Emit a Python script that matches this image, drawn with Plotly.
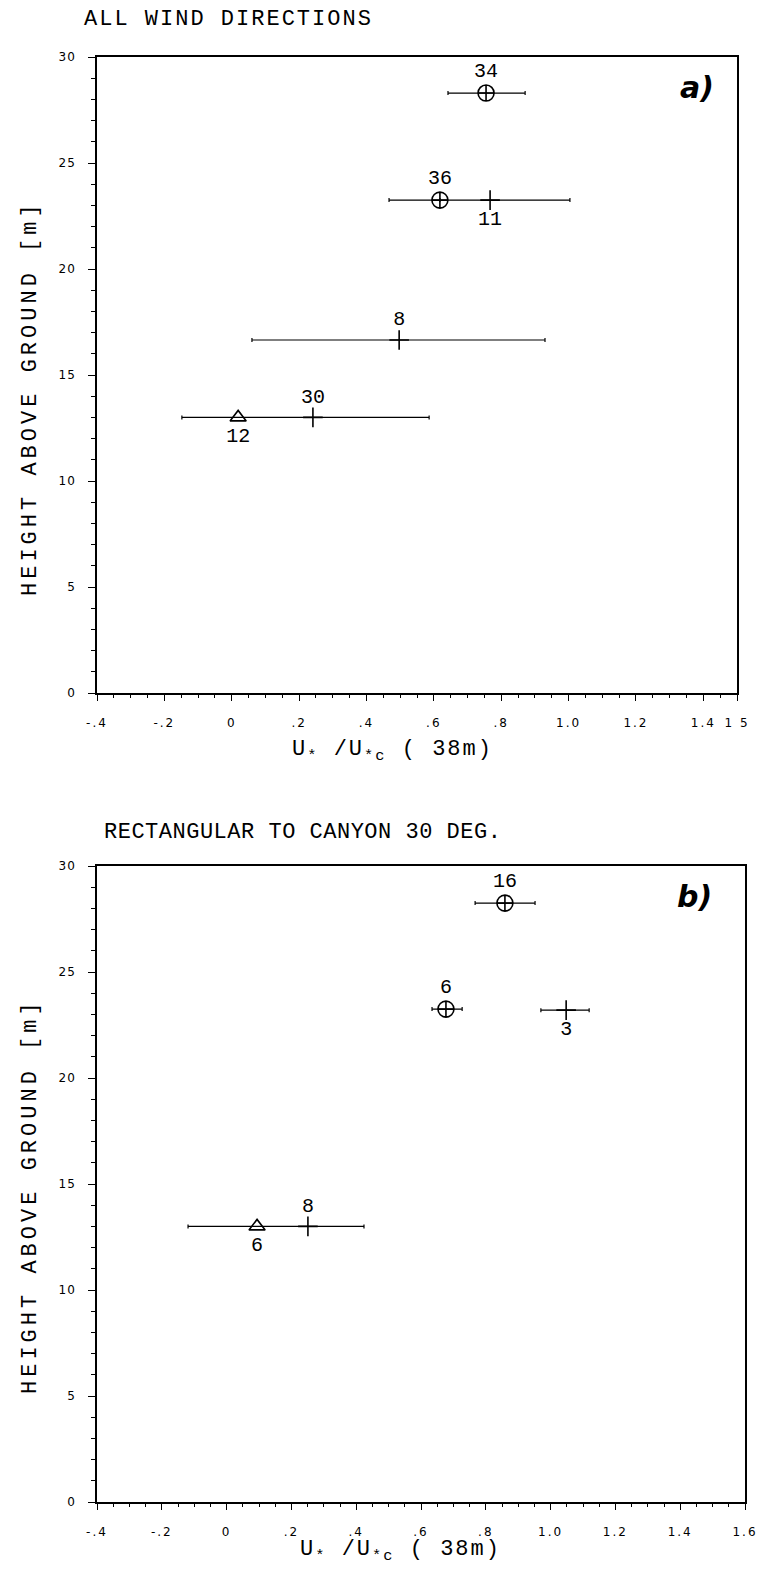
import plotly.graph_objects as go

# ---------------- data ----------------
# Panel a) ALL WIND DIRECTIONS
a_circ_x = [0.755, 0.618]
a_circ_y = [28.3, 23.25]
a_circ_lo = [0.642, 0.618]
a_circ_hi = [0.871, 0.618]
a_circ_lab = ["34", "36"]
a_circ_pos = ["top center", "top center"]

a_cross_x = [0.767, 0.497, 0.241]
a_cross_y = [23.25, 16.65, 13.0]
a_cross_lo = [0.467, 0.06, -0.148]
a_cross_hi = [1.004, 0.93, 0.586]
a_cross_lab = ["11", "8", "30"]
a_cross_pos = ["bottom center", "top center", "top center"]

a_tri_x = [0.019]
a_tri_y = [13.0]
a_tri_lab = ["12"]
a_tri_pos = ["bottom center"]

# Panel b) RECTANGULAR TO CANYON 30 DEG.
b_circ_x = [0.859, 0.677]
b_circ_y = [28.25, 23.25]
b_circ_lo = [0.767, 0.634]
b_circ_hi = [0.952, 0.727]
b_circ_lab = ["16", "6"]
b_circ_pos = ["top center", "top center"]

b_cross_x = [1.048, 0.251]
b_cross_y = [23.2, 13.0]
b_cross_lo = [0.970, -0.119]
b_cross_hi = [1.119, 0.424]
b_cross_lab = ["3", "8"]
b_cross_pos = ["bottom center", "top center"]

b_tri_x = [0.094]
b_tri_y = [13.0]
b_tri_lab = ["6"]
b_tri_pos = ["bottom center"]

a_xticks = [-0.4, -0.2, 0, 0.2, 0.4, 0.6, 0.8, 1.0, 1.2, 1.4, 1.5]
a_xtext = ["-.4", "-.2", "0", ".2", ".4", ".6", ".8", "1.0", "1.2", "1.4", "1 5"]
b_xticks = [-0.4, -0.2, 0, 0.2, 0.4, 0.6, 0.8, 1.0, 1.2, 1.4, 1.6]
b_xtext = ["-.4", "-.2", "0", ".2", ".4", ".6", ".8", "1.0", "1.2", "1.4", "1.6"]
yticks = [0, 5, 10, 15, 20, 25, 30]

# ---------------- figure ----------------
W, H = 761, 1572
fig = go.Figure()
MONO = "Liberation Mono, DejaVu Sans Mono, monospace"
LABF = dict(family=MONO, size=20, color="black")


def sp(t, px):
    return '<span style="letter-spacing:%spx">%s</span>' % (px, t)


def add_series(x, y, lo, hi, labels, pos, symbol, size, xa, ya):
    err = None
    if lo is not None:
        err = dict(type="data", symmetric=False,
                   array=[h - v for h, v in zip(hi, x)],
                   arrayminus=[v - l for v, l in zip(x, lo)],
                   color="black", thickness=1.2, width=2)
    fig.add_trace(go.Scatter(
        x=x, y=y, mode="markers+text", text=labels, textposition=pos,
        textfont=LABF, error_x=err, xaxis=xa, yaxis=ya,
        marker=dict(symbol=symbol, size=size, color="black",
                    line=dict(color="black", width=1.6)),
        cliponaxis=False, showlegend=False))


add_series(a_circ_x, a_circ_y, a_circ_lo, a_circ_hi, a_circ_lab, a_circ_pos,
           "circle-cross-open", 16, "x", "y")
add_series(a_cross_x, a_cross_y, a_cross_lo, a_cross_hi, a_cross_lab, a_cross_pos,
           "cross-thin-open", 14, "x", "y")
add_series(a_tri_x, a_tri_y, None, None, a_tri_lab, a_tri_pos,
           "triangle-up-open", 14, "x", "y")

add_series(b_circ_x, b_circ_y, b_circ_lo, b_circ_hi, b_circ_lab, b_circ_pos,
           "circle-cross-open", 16, "x2", "y2")
add_series(b_cross_x, b_cross_y, b_cross_lo, b_cross_hi, b_cross_lab, b_cross_pos,
           "cross-thin-open", 14, "x2", "y2")
add_series(b_tri_x, b_tri_y, None, None, b_tri_lab, b_tri_pos,
           "triangle-up-open", 14, "x2", "y2")

tickf = dict(family="DejaVu Sans, sans-serif", size=12, color="black")


def xax(dom, rng, tv, tt, anchor):
    return dict(domain=dom, range=rng, anchor=anchor, tickvals=tv,
                ticktext=[sp(t, 2) for t in tt],
                ticks="outside", ticklen=6, tickwidth=1, tickcolor="black",
                minor=dict(dtick=0.05, tick0=0, ticks="outside", ticklen=3,
                           tickcolor="black", tickwidth=1),
                showline=True, linecolor="black", linewidth=1.5, mirror=True,
                showgrid=False, zeroline=False, tickfont=tickf,
                ticklabelstandoff=12, ticklabeloverflow="allow")


def yax(dom, anchor):
    return dict(domain=dom, range=[0, 30], anchor=anchor, tickvals=yticks,
                ticktext=[sp(str(v), 1) for v in yticks],
                ticks="outside", ticklen=7, tickwidth=1, tickcolor="black",
                minor=dict(dtick=1, ticks="outside", ticklen=4,
                           tickcolor="black", tickwidth=1),
                showline=True, linecolor="black", linewidth=1.5, mirror=True,
                showgrid=False, zeroline=False, tickfont=tickf,
                ticklabelstandoff=10, ticklabeloverflow="allow")


fig.update_layout(
    width=W, height=H, margin=dict(l=0, r=0, t=0, b=0, autoexpand=False),
    paper_bgcolor="white", plot_bgcolor="white", showlegend=False,
    xaxis=xax([97 / W, 737 / W], [-0.4, 1.5], a_xticks, a_xtext, "y"),
    yaxis=yax([1 - 693 / H, 1 - 57 / H], "x"),
    xaxis2=xax([97 / W, 745 / W], [-0.4, 1.6], b_xticks, b_xtext, "y2"),
    yaxis2=yax([1 - 1502 / H, 1 - 866 / H], "x2"),
)

TF = dict(family=MONO, size=22, color="black")
PF = dict(family="DejaVu Sans", size=30, color="black")

anns = [
    dict(text=sp("ALL WIND DIRECTIONS", 2), x=82 / W, y=1 - 20 / H, xanchor="left", yanchor="middle", font=TF),
    dict(text=sp("RECTANGULAR TO CANYON 30 DEG.", 0.5), x=102 / W, y=1 - 833 / H, xanchor="left", yanchor="middle", font=TF),
    dict(text=sp("HEIGHT ABOVE GROUND [m]", 4), x=30 / W, y=1 - 398 / H, textangle=-90, xanchor="center", yanchor="middle", font=TF),
    dict(text=sp("HEIGHT ABOVE GROUND [m]", 4), x=30 / W, y=1 - 1196 / H, textangle=-90, xanchor="center", yanchor="middle", font=TF),
    dict(text=sp("U<sub>*</sub> /U<sub>*c</sub> ( 38m)", 2), x=392 / W, y=1 - 751 / H, xanchor="center", yanchor="middle", font=TF),
    dict(text=sp("U<sub>*</sub> /U<sub>*c</sub> ( 38m)", 2), x=400 / W, y=1 - 1551 / H, xanchor="center", yanchor="middle", font=TF),
    dict(text="<b><i>a)</i></b>", x=697 / W, y=1 - 88 / H, xanchor="center", yanchor="middle", font=PF),
    dict(text="<b><i>b)</i></b>", x=694 / W, y=1 - 896 / H, xanchor="center", yanchor="middle", font=PF),
]
for a in anns:
    a.update(xref="paper", yref="paper", showarrow=False)
    fig.add_annotation(**a)

fig.write_html("out.html", config={"displayModeBar": False},
               post_script="document.body.style.margin='0';document.body.style.overflow='hidden';")
